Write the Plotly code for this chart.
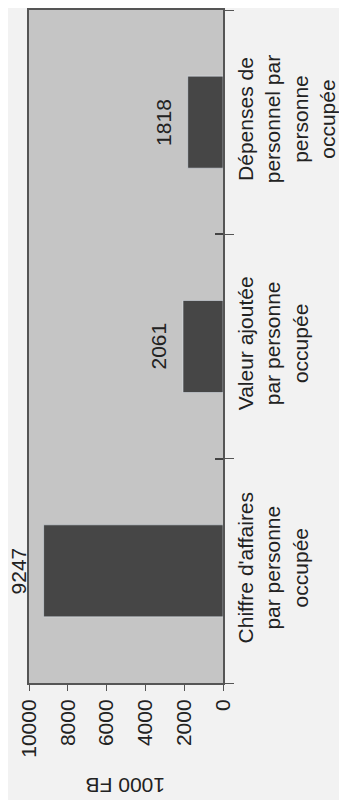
import plotly.graph_objects as go

categories = ["Chiffre d'affaires<br>par personne<br>occupée",
              "Valeur ajoutée<br>par personne<br>occupée",
              "Dépenses de<br>personnel par<br>personne<br>occupée"]
values = [9247, 2061, 1818]
value_ticks = [0, 2000, 4000, 6000, 8000, 10000]
value_tick_labels = ["0", "2000", "4000", "6000", "8000", "10000"]
axis_title = "1000 FB"

FONT = "Liberation Sans, Arial, sans-serif"
INK = "#222222"
FS = 21

fig = go.Figure(go.Bar(
    x=values, y=categories, orientation="h",
    marker=dict(color="#464646", line=dict(width=0)),
    width=0.41,
    cliponaxis=False,
))
# invisible twin trace to carry inner category ticks (ticks cross the axis line)
fig.add_trace(go.Bar(
    x=values, y=categories, orientation="h", yaxis="y2",
    marker=dict(color="rgba(0,0,0,0)"), width=0.41, hoverinfo="skip",
))

annotations = [dict(text=str(v), x=v, y=c, xref="x", yref="y", showarrow=False,
                    textangle=-90, xanchor="center", yanchor="middle", xshift=-25,
                    font=dict(size=FS, color=INK))
               for v, c in zip(values, categories)]
annotations.append(dict(text=axis_title, xref="paper", yref="paper", x=0.5, y=-0.152,
                        showarrow=False, textangle=180, font=dict(size=FS, color=INK),
                        xanchor="center", yanchor="middle"))

fig.update_layout(
    width=339, height=792,
    margin=dict(l=21, r=124, t=2, b=117),
    paper_bgcolor="#f2f2f2", plot_bgcolor="#c5c5c5",
    font=dict(family=FONT, size=FS, color=INK),
    showlegend=False, barmode="overlay",
    xaxis=dict(range=[10000, 0], tickvals=value_ticks, ticktext=value_tick_labels,
               tickangle=-90, automargin=False,
               showgrid=False, zeroline=False, showline=True, linecolor="#555555",
               linewidth=2, mirror=True, ticks="outside", ticklen=6, tickcolor="#555555",
               tickfont=dict(size=FS, color=INK)),
    yaxis=dict(side="right", tickangle=-90, showgrid=False, zeroline=False,
               type="category", categoryorder="array", categoryarray=categories,
               range=[-0.5, 2.5],
               automargin=False, ticklabelstandoff=3,
               showline=True, linecolor="#555555", linewidth=2, mirror=True,
               ticks="outside", ticklen=9, tickcolor="#555555", tickson="boundaries",
               tickfont=dict(size=FS, color=INK)),
    yaxis2=dict(overlaying="y", side="right", showticklabels=False,
                type="category", categoryorder="array", categoryarray=categories,
                range=[-0.5, 2.5],
                showgrid=False, zeroline=False, automargin=False, showline=False,
                ticks="inside", ticklen=8, tickwidth=1.5, tickcolor="#444444",
                tickson="boundaries"),
    annotations=annotations,
)

fig.write_html("out.html")
